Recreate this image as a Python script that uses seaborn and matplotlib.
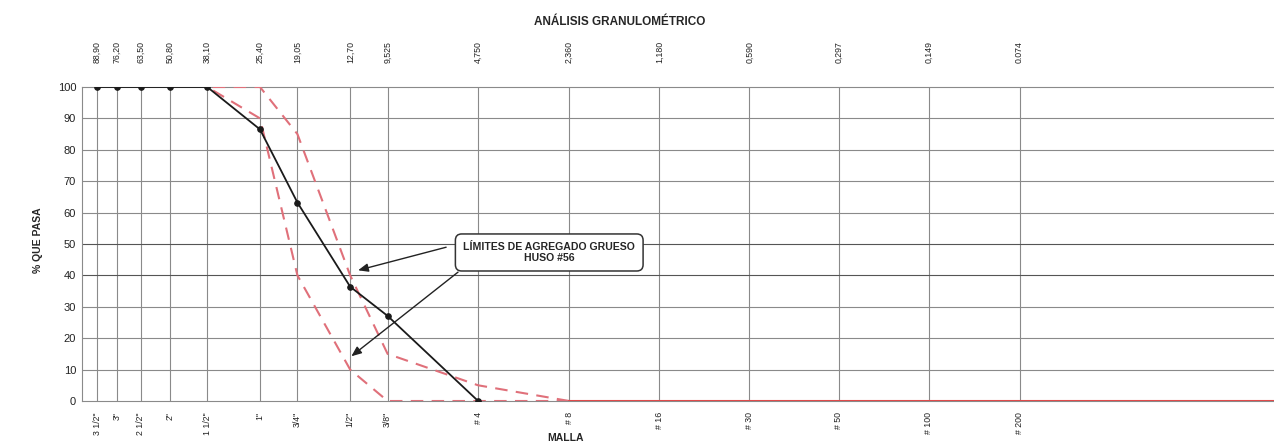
import matplotlib
matplotlib.use("Agg")
import matplotlib.pyplot as plt
import numpy as np
import pandas as pd
import seaborn as sns
from matplotlib.ticker import FixedLocator, NullLocator

# Sieve openings (mm) and their designations
sieve_mm = [88.90, 76.20, 63.50, 50.80, 38.10, 25.40, 19.05, 12.70, 9.525,
            4.750, 2.360, 1.180, 0.590, 0.297, 0.149, 0.074, 0.010]
sieve_mm_labels = ["88,90", "76,20", "63,50", "50,80", "38,10", "25,40", "19,05",
                   "12,70", "9,525", "4,750", "2,360", "1,180", "0,590", "0,297",
                   "0,149", "0.074", "0.010"]
sieve_names = ['3 1/2"', '3"', '2 1/2"', '2"', '1 1/2"', '1"', '3/4"', '1/2"',
               '3/8"', '# 4', '# 8', '# 16', '# 30', '# 50', '# 100', '# 200']

# Sample gradation (% passing)
sample_mm = [88.90, 76.20, 63.50, 50.80, 38.10, 25.40, 19.05, 12.70, 9.525, 4.750]
sample_pass = [100, 100, 100, 100, 100, 86.5, 63.2, 36.4, 27.1, 0]

# Coarse aggregate gradation band, size #56
limit_mm = [38.10, 25.40, 19.05, 12.70, 9.525, 4.750, 2.360]
upper_pass = [100, 100, 85, 40, 15, 5, 0]
lower_pass = [100, 90, 40, 10, 0, 0, 0]
fines_mm = [2.360, 1.180, 0.590, 0.297, 0.149, 0.074, 0.010]
fines_pass = [0, 0, 0, 0, 0, 0, 0]

sns.set_style("white")
plt.rcParams["font.family"] = ["Liberation Sans", "DejaVu Sans"]

W, H = 1274, 445
fig = plt.figure(figsize=(W / 100, H / 100), dpi=100)
ax = fig.add_axes([81.7 / W, 1 - 401 / H, (1280 - 81.7) / W, (401 - 87) / H])

grid_col = "#8a8a8a"
red = "#e0707a"

ax.set_xscale("log")
ax.set_xlim(100, 0.010)
ax.set_ylim(0, 100)

# grid
for v in sieve_mm:
    ax.axvline(v, color=grid_col, lw=0.8, zorder=1)
for h in range(10, 100, 10):
    ax.axhline(h, color=grid_col if h not in (40, 50) else "#555555", lw=0.8, zorder=1)

df_up = pd.DataFrame({"mm": limit_mm, "pasa": upper_pass})
df_lo = pd.DataFrame({"mm": limit_mm, "pasa": lower_pass})
df_fi = pd.DataFrame({"mm": fines_mm, "pasa": fines_pass})
df_s = pd.DataFrame({"mm": sample_mm, "pasa": sample_pass})

sns.lineplot(data=df_up, x="mm", y="pasa", ax=ax, color=red, lw=1.5,
             linestyle=(0, (6, 4)), zorder=3)
sns.lineplot(data=df_lo, x="mm", y="pasa", ax=ax, color=red, lw=1.5,
             linestyle=(0, (6, 4)), zorder=3)
sns.lineplot(data=df_fi, x="mm", y="pasa", ax=ax, color="#e04a4a", lw=1.5, zorder=3)
sns.lineplot(data=df_s, x="mm", y="pasa", ax=ax, color="#1a1a1a", lw=1.3,
             marker="o", markersize=4, markeredgecolor="#1a1a1a", zorder=4)

# axes ticks
ax.xaxis.set_major_locator(FixedLocator(sieve_mm[:16]))
ax.xaxis.set_minor_locator(NullLocator())
ax.set_xticklabels(sieve_names, rotation=90, fontsize=6.3)
ax.set_yticks(range(0, 101, 10))
ax.set_yticklabels([str(v) for v in range(0, 101, 10)], fontsize=8)
ax.tick_params(axis="both", length=0, pad=4, colors="#222222")
ax.tick_params(axis="x", pad=8)
ax.set_xlabel("")
ax.set_ylabel("")

top = ax.secondary_xaxis("top")
top.xaxis.set_major_locator(FixedLocator(sieve_mm))
top.xaxis.set_minor_locator(NullLocator())
top.set_xticklabels(sieve_mm_labels, rotation=90, fontsize=6.3)
top.tick_params(length=0, pad=17, colors="#222222")
for s in top.spines.values():
    s.set_visible(False)

for name, s in ax.spines.items():
    s.set_color(grid_col)
    s.set_linewidth(0.8)
ax.spines["right"].set_visible(False)

# annotation box with arrows
ax.text(2.75, 47.3, "LÍMITES DE AGREGADO GRUESO\nHUSO #56", ha="center", va="center",
        fontsize=7.6, fontweight="bold", linespacing=1.15, zorder=6,
        bbox=dict(boxstyle="round,pad=0.75,rounding_size=0.6", fc="white",
                  ec="#333333", lw=1.1))
arrow = dict(arrowstyle="-|>,head_length=0.6,head_width=0.25", color="#222222", lw=1.0)
ax.annotate("", xy=(12.2, 41.4), xytext=(5.95, 49.2), arrowprops=arrow, zorder=5)
ax.annotate("", xy=(12.8, 13.7), xytext=(5.45, 41.6), arrowprops=arrow, zorder=5)

fig.text(620 / W, 1 - 22 / H, "ANÁLISIS GRANULOMÉTRICO", ha="center", va="center",
         fontsize=8.5, fontweight="bold")
fig.text(565 / W, 1 - 438 / H, "MALLA", ha="center", va="center",
         fontsize=7.5, fontweight="bold")
fig.text(38 / W, 1 - 240 / H, "% QUE PASA", ha="center", va="center",
         rotation=90, fontsize=7.5, fontweight="bold")

fig.savefig("out.png", dpi=100)
